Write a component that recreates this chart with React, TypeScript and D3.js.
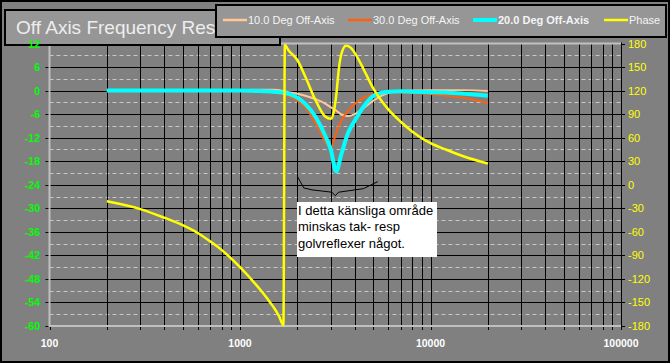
import React, { useRef, useEffect } from 'react';
import * as d3 from 'd3';

// magnitude responses (dB)
const freqs = [200, 300, 500, 700, 1000, 1200, 1500, 1800, 2000, 2200, 2500, 2800, 3000, 3200, 3400, 3700, 4000, 4500, 5000, 6000, 7000, 8000, 10000, 12000, 15000, 20000];
const deg10 = [0, 0, 0, 0, 0.1, 0.2, 0.2, -0.4, -0.8, -1.3, -2.2, -3.3, -4.3, -5.1, -6.1, -6.5, -6.0, -4.3, -2.6, -0.6, -0.2, 0, 0.1, 0.1, 0.1, -0.1];
const deg30 = [0, 0, 0, 0, 0, -0.3, -0.5, -1.4, -2.5, -4.3, -8.4, -13.0, -14.6, -10.7, -7.7, -5.1, -3.4, -1.7, -0.9, -0.4, -0.5, -0.6, -0.9, -1.3, -1.9, -3.2];
const deg20 = [0, 0, 0, 0, 0, -0.1, -0.3, -0.8, -1.8, -3.4, -6.8, -11.5, -15.1, -20.6, -16.3, -10.7, -7.7, -3.8, -1.4, -0.3, -0.2, -0.3, -0.4, -0.5, -0.8, -1.3];

// phase (degrees), wraps from -180 to +180 near 1.7 kHz
const phaseFreqs = [200, 300, 400, 500, 600, 700, 800, 1000, 1200, 1300, 1400, 1500, 1600, 1690, 1720, 1800, 2000, 2200, 2500, 2800, 3000, 3100, 3200, 3300, 3400, 3600, 3800, 4000, 4500, 5000, 6000, 7000, 8000, 10000, 12000, 15000, 20000];
const phaseDeg = [-21, -31, -42, -51.5, -61.5, -72.5, -83, -105, -126, -136, -146, -156, -167, -179, 178, 171, 159, 138, 107, 87, 84, 92, 114, 147, 166, 177, 175, 168, 145, 123, 96, 80, 68, 53, 45, 36, 27];

const dbTicks = [12, 6, 0, -6, -12, -18, -24, -30, -36, -42, -48, -54, -60];
const phaseTicks = [180, 150, 120, 90, 60, 30, 0, -30, -60, -90, -120, -150, -180];
const freqLabels = [100, 1000, 10000, 100000];

const seriesNames = ['10.0 Deg Off-Axis', '30.0 Deg Off-Axis', '20.0 Deg Off-Axis', 'Phase'];
const seriesColors = ['#FFC896', '#FF6010', '#00FFFF', '#FFFF00'];

// note bracket under the dip, in (Hz, dB)
const bracketPts: [number, number][] = [[2007, -22], [2160, -24.8], [2385, -25.3], [3040, -25.9], [3162, -26.8], [3290, -25.9], [4440, -25], [5290, -23.2]];
const noteLines = ['I detta känsliga område', 'minskas tak- resp', 'golvreflexer något.'];

const FONT = '"Liberation Sans", Arial, sans-serif';

const App: React.FC = () => {
  const svgRef = useRef<SVGSVGElement | null>(null);

  useEffect(() => {
    if (!svgRef.current) return;
    const w = 670;
    const h = 363;
    const left = 49.5, right = 621, top = 43.5, bottom = 326;

    const svg = d3.select(svgRef.current).attr('width', w).attr('height', h);
    svg.selectAll('*').remove();

    const x = d3.scaleLog().domain([100, 100000]).range([left, right]);
    const y = d3.scaleLinear().domain([-60, 12]).range([bottom, top]);
    const yPhase = d3.scaleLinear().domain([-180, 180]).range([bottom, top]);
    const px = (v: number) => Math.round(v) + 0.5;

    svg.append('rect').attr('width', w).attr('height', h).attr('fill', '#808080');
    svg.append('rect').attr('x', 1).attr('y', 1).attr('width', w - 2).attr('height', h - 2)
      .attr('fill', 'none').attr('stroke', '#000').attr('stroke-width', 2);

    // grid
    const g = svg.append('g');
    const midTicks = dbTicks.slice(0, -1).map((d) => d - 3);
    g.selectAll('.mid').data(midTicks).join('line')
      .attr('x1', left).attr('x2', right)
      .attr('y1', (d) => px(y(d))).attr('y2', (d) => px(y(d)))
      .attr('stroke', '#C8C8C8').attr('stroke-dasharray', '4,3');
    g.selectAll('.maj').data(dbTicks.slice(1, -1)).join('line')
      .attr('x1', left).attr('x2', right)
      .attr('y1', (d) => px(y(d))).attr('y2', (d) => px(y(d)))
      .attr('stroke', '#000');

    const vlines: number[] = [];
    [100, 1000, 10000].forEach((dec) => d3.range(1, 10).forEach((k) => vlines.push(dec * k)));
    vlines.push(100000);
    g.selectAll('.v').data(vlines.slice(1, -1)).join('line')
      .attr('x1', (d) => px(x(d))).attr('x2', (d) => px(x(d)))
      .attr('y1', top).attr('y2', bottom)
      .attr('stroke', '#000');

    // ticks
    g.selectAll('.bt').data(vlines).join('line')
      .attr('x1', (d) => px(x(d))).attr('x2', (d) => px(x(d)))
      .attr('y1', bottom).attr('y2', bottom + 4)
      .attr('stroke', '#000');
    g.selectAll('.lt').data(dbTicks).join('line')
      .attr('x1', left - 4).attr('x2', left)
      .attr('y1', (d) => px(y(d))).attr('y2', (d) => px(y(d)))
      .attr('stroke', '#000');
    g.selectAll('.rt').data(phaseTicks).join('line')
      .attr('x1', right).attr('x2', right + 4)
      .attr('y1', (d) => px(yPhase(d))).attr('y2', (d) => px(yPhase(d)))
      .attr('stroke', '#000');

    // frame
    g.append('path')
      .attr('d', `M${right},${top} H${left} V${bottom} H${right}`)
      .attr('fill', 'none').attr('stroke', '#C0C0C0').attr('stroke-width', 2);
    g.append('line').attr('x1', right + 0.5).attr('x2', right + 0.5).attr('y1', top - 1).attr('y2', bottom + 4)
      .attr('stroke', '#000');

    // series
    const mag = d3.line<number>().x((_, i) => x(freqs[i])).y((d) => y(d)).curve(d3.curveMonotoneX);
    const ph = d3.line<number>().x((_, i) => x(phaseFreqs[i])).y((d) => yPhase(d)).curve(d3.curveMonotoneX);
    const series = [deg10, deg30, deg20];
    const widths = [2, 2, 4];
    series.forEach((s, i) => {
      svg.append('path').datum(s).attr('d', mag)
        .attr('fill', 'none').attr('stroke', seriesColors[i]).attr('stroke-width', widths[i])
        .attr('stroke-linejoin', 'round');
    });
    svg.append('path').datum(phaseDeg).attr('d', ph)
      .attr('fill', 'none').attr('stroke', seriesColors[3]).attr('stroke-width', 2.5)
      .attr('stroke-linejoin', 'round');

    // annotation
    const br = d3.line<[number, number]>().x((d) => x(d[0])).y((d) => y(d[1]));
    svg.append('path').datum(bracketPts).attr('d', br)
      .attr('fill', 'none').attr('stroke', '#000').attr('stroke-width', 1);
    svg.append('rect').attr('x', 297).attr('y', 202).attr('width', 140).attr('height', 55).attr('fill', '#fff');
    svg.append('g').selectAll('text').data(noteLines).join('text')
      .attr('x', 298).attr('y', (_, i) => 215 + i * 16.3)
      .attr('font-family', FONT).attr('font-size', 13).attr('fill', '#000')
      .text((d) => d);

    // title (its right end sits under the legend box)
    svg.append('defs').append('clipPath').attr('id', 'titleClip')
      .append('rect').attr('x', 5).attr('y', 10).attr('width', 210).attr('height', 35);
    svg.append('rect').attr('x', 5).attr('y', 10).attr('width', 275).attr('height', 35)
      .attr('fill', '#969696').attr('stroke', '#000').attr('stroke-width', 2);
    svg.append('text').attr('x', 16).attr('y', 34).text('Off Axis Frequency Response')
      .attr('clip-path', 'url(#titleClip)')
      .attr('font-family', FONT).attr('font-size', 19).attr('fill', '#EEEEEE');

    // legend
    svg.append('rect').attr('x', 216).attr('y', 5).attr('width', 450).attr('height', 32)
      .attr('fill', '#969696').attr('stroke', '#000').attr('stroke-width', 2);
    const legendX = [223, 348, 473, 604];
    const leg = svg.append('g').selectAll('g').data(seriesNames).join('g')
      .attr('transform', (_, i) => `translate(${legendX[i]},20)`);
    leg.append('line').attr('x1', 0).attr('x2', 24).attr('y1', 0).attr('y2', 0)
      .attr('stroke', (_, i) => seriesColors[i]).attr('stroke-width', (_, i) => (i === 2 ? 4 : 2.5));
    leg.append('text').attr('x', 25).attr('y', 4).text((d) => d)
      .attr('font-family', FONT).attr('font-size', 11).attr('fill', '#F4F4F4')
      .attr('font-weight', (_, i) => (i === 2 ? 'bold' : 'normal'));

    // axis labels
    svg.append('g').selectAll('text').data(dbTicks).join('text')
      .attr('x', 40).attr('y', (d) => y(d) + 4).attr('text-anchor', 'end')
      .attr('font-family', FONT).attr('font-size', 10.5).attr('font-weight', 'bold').attr('fill', '#00FF00')
      .text((d) => d);
    svg.append('g').selectAll('text').data(phaseTicks).join('text')
      .attr('x', 628).attr('y', (d) => yPhase(d) + 4)
      .attr('font-family', FONT).attr('font-size', 11).attr('fill', '#FFFF00')
      .text((d) => d);
    svg.append('g').selectAll('text').data(freqLabels).join('text')
      .attr('x', (d) => x(d)).attr('y', 347).attr('text-anchor', 'middle')
      .attr('font-family', FONT).attr('font-size', 10.5).attr('font-weight', 'bold').attr('fill', '#FFFFFF')
      .text((d) => d);
  }, []);

  return (
    <div style={{ position: 'absolute', left: 0, top: 0 }}>
      <svg ref={svgRef} style={{ display: 'block' }}></svg>
    </div>
  );
};

export default App;
